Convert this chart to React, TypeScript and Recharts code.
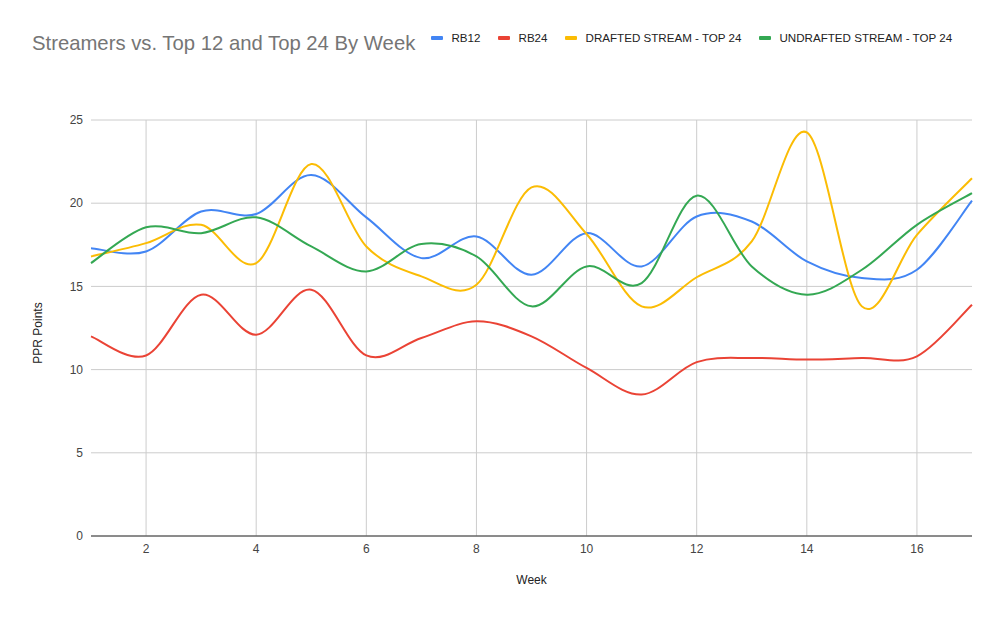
import React from "react";
import { LineChart, Line, XAxis, YAxis, CartesianGrid } from "recharts";

const weeks = [1, 2, 3, 4, 5, 6, 7, 8, 9, 10, 11, 12, 13, 14, 15, 16, 17];
const rb12 = [17.3, 17.1, 19.5, 19.35, 21.7, 19.15, 16.7, 18.0, 15.7, 18.2, 16.2, 19.2, 18.9, 16.5, 15.5, 16.0, 20.15];
const rb24 = [12.0, 10.85, 14.5, 12.1, 14.8, 10.85, 11.9, 12.9, 12.0, 10.1, 8.5, 10.45, 10.7, 10.6, 10.7, 10.8, 13.9];
const drafted = [16.8, 17.6, 18.7, 16.4, 22.35, 17.4, 15.6, 15.1, 20.95, 18.15, 13.8, 15.55, 17.7, 24.25, 13.8, 18.1, 21.5];
const undrafted = [16.4, 18.55, 18.2, 19.15, 17.4, 15.9, 17.55, 16.8, 13.8, 16.2, 15.2, 20.45, 16.2, 14.5, 16.0, 18.7, 20.6];

const xTicks = [2, 4, 6, 8, 10, 12, 14, 16];
const yTicks = [0, 5, 10, 15, 20, 25];

const seriesNames = ["RB12", "RB24", "DRAFTED STREAM - TOP 24", "UNDRAFTED STREAM - TOP 24"];
const seriesKeys = ["rb12", "rb24", "drafted", "undrafted"];
const seriesColors = ["#4285F4", "#EA4335", "#FBBC04", "#34A853"];

const data = weeks.map((w, i) => ({
  week: w,
  rb12: rb12[i],
  rb24: rb24[i],
  drafted: drafted[i],
  undrafted: undrafted[i],
}));

const FONT = "'Liberation Sans', Arial, sans-serif";

// Catmull-Rom style smoothing similar to Google Charts' "function" curve
const smoothCurve = (context: any) => {
  let pts: number[][] = [];
  return {
    areaStart() {},
    areaEnd() {},
    lineStart() {
      pts = [];
    },
    point(x: number, y: number) {
      pts.push([+x, +y]);
    },
    lineEnd() {
      const n = pts.length;
      if (!n) return;
      context.moveTo(pts[0][0], pts[0][1]);
      if (n === 1) return;
      const t = 1 / 6;
      for (let i = 0; i < n - 1; i++) {
        const p0 = pts[Math.max(i - 1, 0)];
        const p1 = pts[i];
        const p2 = pts[i + 1];
        const p3 = pts[Math.min(i + 2, n - 1)];
        context.bezierCurveTo(
          p1[0] + (p2[0] - p0[0]) * t,
          p1[1] + (p2[1] - p0[1]) * t,
          p2[0] - (p3[0] - p1[0]) * t,
          p2[1] - (p3[1] - p1[1]) * t,
          p2[0],
          p2[1]
        );
      }
    },
  };
};

const YLabel = (props: any) => {
  const vb = props.viewBox || {};
  const cx = 38;
  const cy = vb.y + vb.height / 2 + 5;
  return (
    <text
      x={cx}
      y={cy}
      transform={`rotate(-90, ${cx}, ${cy})`}
      textAnchor="middle"
      dominantBaseline="central"
      fill="#222"
      fontSize={12}
      fontFamily={FONT}
    >
      PPR Points
    </text>
  );
};

const XLabel = (props: any) => {
  const vb = props.viewBox || {};
  const cx = vb.x + vb.width / 2;
  const cy = vb.y + 44;
  return (
    <text x={cx} y={cy} textAnchor="middle" dominantBaseline="central" fill="#222" fontSize={12} fontFamily={FONT}>
      Week
    </text>
  );
};

export default function App() {
  return (
    <div style={{ position: "relative", width: 1003, height: 619, background: "#fff", fontFamily: FONT }}>
      <style>{`body{margin:0;}`}</style>
      <div
        style={{
          position: "absolute",
          left: 32,
          top: 31,
          fontSize: 20.3,
          color: "#757575",
          whiteSpace: "nowrap",
          lineHeight: "24px",
        }}
      >
        Streamers vs. Top 12 and Top 24 By Week
      </div>
      <div
        style={{
          position: "absolute",
          left: 431,
          top: 30,
          display: "flex",
          alignItems: "center",
          fontSize: 11.6,
          color: "#222",
          whiteSpace: "nowrap",
          lineHeight: "16px",
        }}
      >
        {seriesNames.map((name, i) => (
          <div key={name} style={{ display: "flex", alignItems: "center", marginRight: 17.5 }}>
            <span
              style={{
                display: "inline-block",
                width: 12,
                height: 4,
                borderRadius: 1,
                background: seriesColors[i],
                marginRight: 8.5,
              }}
            />
            <span>{name}</span>
          </div>
        ))}
      </div>
      <div style={{ position: "absolute", left: 0, top: 0 }}>
        <LineChart width={1003} height={619} data={data} margin={{ top: 120, right: 31, bottom: 53, left: 31 }}>
          <CartesianGrid stroke="#cccccc" strokeWidth={1} verticalValues={xTicks} horizontalValues={yTicks} />
          <XAxis
            dataKey="week"
            type="number"
            domain={[1, 17]}
            ticks={xTicks}
            height={30}
            axisLine={{ stroke: "#333333", strokeWidth: 1 }}
            tickLine={false}
            tick={{ fill: "#444", fontSize: 12, fontFamily: FONT }}
            label={<XLabel />}
          />
          <YAxis
            type="number"
            domain={[0, 25]}
            ticks={yTicks}
            width={60}
            axisLine={false}
            tickLine={false}
            tick={{ fill: "#444", fontSize: 12, fontFamily: FONT }}
            label={<YLabel />}
          />
          {seriesKeys.map((k, i) => (
            <Line
              key={k}
              dataKey={k}
              name={seriesNames[i]}
              type={smoothCurve as any}
              stroke={seriesColors[i]}
              strokeWidth={2}
              dot={false}
              activeDot={false}
              isAnimationActive={false}
            />
          ))}
        </LineChart>
      </div>
    </div>
  );
}
